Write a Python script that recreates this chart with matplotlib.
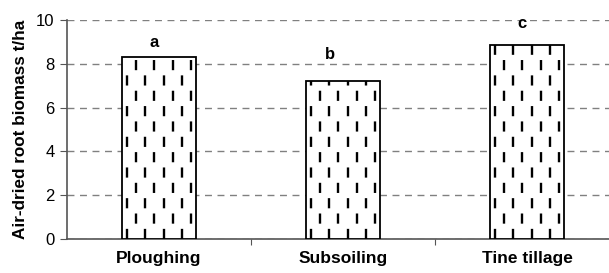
import matplotlib
matplotlib.use("Agg")
import matplotlib.pyplot as plt
import numpy as np

categories = ["Ploughing", "Subsoiling", "Tine tillage"]
biomass = [8.3, 7.21, 8.86]
letters = ["a", "b", "c"]
letter_y = [8.77, 8.22, 9.63]
letter_dx = [-0.025, -0.07, -0.027]
yticks = [0, 2, 4, 6, 8, 10]

plt.rcParams['font.family'] = ['Liberation Sans', 'DejaVu Sans']

fig = plt.figure(figsize=(6.09, 2.73), dpi=100)
ax = fig.add_axes([67/609, 1-239/273, 552/609, 219/273])

x = np.arange(len(categories)) + 0.5
bw = 0.40
bars = ax.bar(x, biomass, width=bw, color="white", edgecolor="black",
              linewidth=1.3, zorder=3)

# dashed vertical pattern inside bars
for bar in bars:
    x0 = bar.get_x()
    h = bar.get_height()
    cols = x0 + 0.025 + 0.05 * np.arange(8)
    for k, cx in enumerate(cols):
        off = 0 if k % 2 == 0 else 6.5
        ln = ax.vlines(cx, 0, h, colors="black", linewidth=1.7,
                       linestyles=[(off, (4.3, 8.7))], zorder=4)
        ln.set_clip_path(bar)

for xi, l, ly, dx in zip(x, letters, letter_y, letter_dx):
    ax.text(xi + dx, ly, l, ha="center", va="baseline", fontsize=12,
            fontweight="bold", zorder=5)

ax.set_xlim(0, 3)
ax.set_ylim(0, 10)
ax.set_yticks(yticks)
ax.set_yticklabels([str(t) for t in yticks], fontsize=12)
ax.set_xticks([1, 2, 3])
ax.set_xticklabels([])
ax.set_xticks(x, minor=True)
ax.set_xticklabels(categories, minor=True, fontsize=12.5, fontweight="bold")
ax.tick_params(axis="x", which="minor", length=0, pad=9)
ax.tick_params(axis="x", which="major", length=4, direction="out", color="#555555")
ax.tick_params(axis="y", length=5, direction="out", color="#555555", pad=4)

ax.set_ylabel("Air-dried root biomass t/ha", fontsize=12.3, fontweight="bold", labelpad=6)

ax.yaxis.grid(True, color="#808080", linestyle=(0, (5, 4)), linewidth=1.0, zorder=0)
ax.set_axisbelow(True)
for s in ["top", "right"]:
    ax.spines[s].set_visible(False)
ax.spines["left"].set_color("#555555")
ax.spines["bottom"].set_color("#555555")
ax.spines["left"].set_linewidth(1.2)
ax.spines["bottom"].set_linewidth(1.2)

fig.savefig("out.png", dpi=100)
